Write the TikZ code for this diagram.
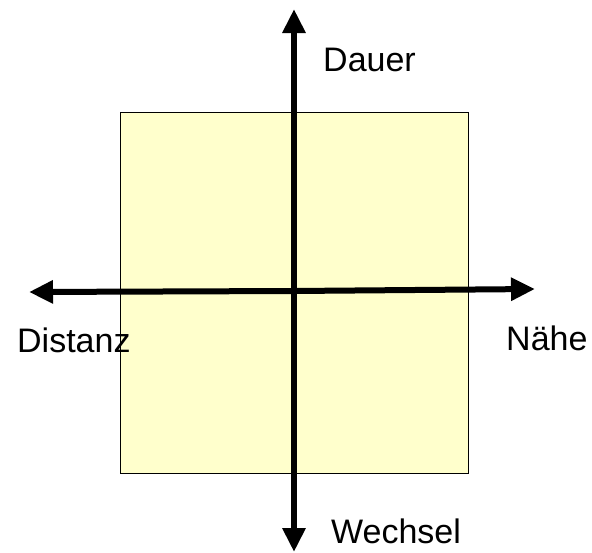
\documentclass[tikz,border=0pt]{standalone}
\usepackage{fontspec}
\setmainfont{Liberation Sans}
\usetikzlibrary{arrows.meta}
\definecolor{quadfill}{HTML}{FFFFCC}
\tikzset{
  axis/.style={line width=6pt, -{Triangle[length=24pt,width=22pt]}},
  lbl/.style={anchor=base west, inner sep=0pt, font=\fontsize{34}{40}\selectfont},
}
\begin{document}
\begin{tikzpicture}[x=1pt,y=-1pt]
\useasboundingbox (0,0) rectangle (592,552);
\node[draw=black, line width=1pt, fill=quadfill, minimum width=348pt, minimum height=361pt, inner sep=0pt] (sq) at (294,292.5) {};
\coordinate (c) at (294,291);
\coordinate (L) at (29,292);
\coordinate (R) at (535,289);
\coordinate (T) at (294,9);
\coordinate (B) at (294,552);
\draw[axis] (c) -- (L);
\draw[axis] (c) -- (R);
\draw[axis] (c) -- (T);
\draw[axis] (c) -- (B);
\node[lbl] (dauer) at (323,71) {Dauer};
\node[lbl] (distanz) at (17,352) {Distanz};
\node[lbl] (naehe) at (506,350) {Nähe};
\node[lbl] (wechsel) at (331,543) {Wechsel};
\end{tikzpicture}
\end{document}
